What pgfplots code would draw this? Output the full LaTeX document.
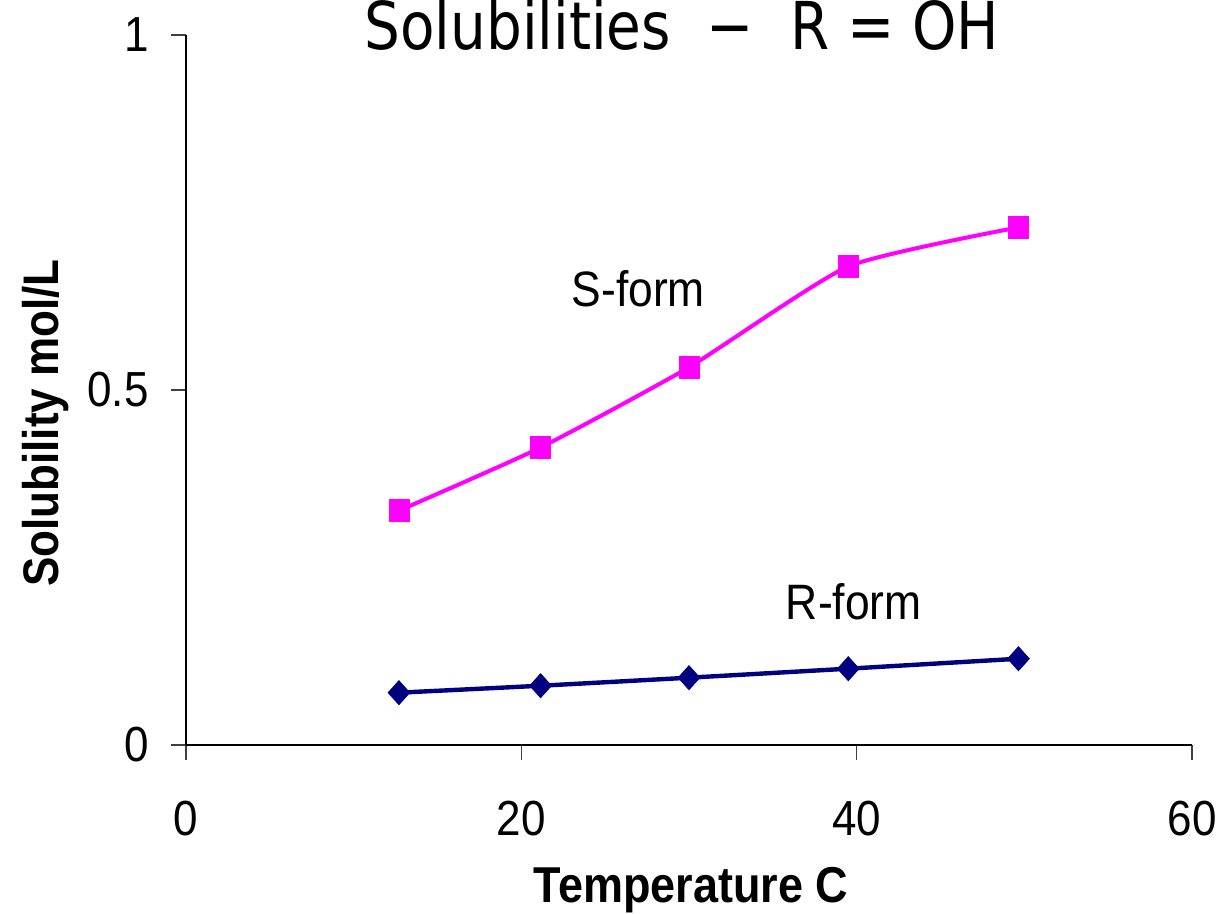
\documentclass[border=0pt]{standalone}
\usepackage{pgfplots}
\pgfplotsset{compat=1.18}
\usepackage{graphicx}
\usepackage{fontspec}
\setmainfont{Liberation Sans}
\newfontfamily\titlefont{DejaVu Sans}
% slightly tall lettering used throughout the chart
\newcommand\vs[1]{\scalebox{1}[1.12]{#1}}
\definecolor{sform}{RGB}{255,0,255}
\definecolor{rform}{RGB}{0,0,128}

\begin{document}
\begin{tikzpicture}
\path[use as bounding box] (-93pt,-84.5pt) rectangle (519.5pt,372.5pt);
\begin{axis}[
  at={(0,0)}, anchor=south west,
  scale only axis, width=503pt, height=355pt,
  xmin=0, xmax=60, ymin=0, ymax=1,
  clip=false,
  axis lines=left,
  axis line style={-, line width=0.8pt, black},
  xtick={0,20,40,60}, ytick={0,0.5,1},
  tick align=outside, major tick length=7.5pt,
  tick style={line width=0.7pt, black!75},
  /pgf/number format/assume math mode=true,
  xticklabel={\vs{\pgfmathprintnumber{\tick}}},
  yticklabel={\vs{\pgfmathprintnumber{\tick}}},
  ticklabel style={font=\fontsize{22}{26}\selectfont, inner sep=0pt},
  xticklabel style={anchor=center, yshift=-29.5pt},
  yticklabel style={anchor=east, xshift=-11pt},
  title={\titlefont\fontsize{33}{40}\selectfont\scalebox{0.855}[1]{Solubilities\ \ −\ \ R = OH}},
  title style={at={(axis description cs:0.1769,0.962)}, anchor=base west, inner sep=0pt},
  xlabel={\vs{Temperature C}},
  xlabel style={font=\bfseries\fontsize{22.5}{27}\selectfont, at={(axis description cs:0.502,-0.2225)}, anchor=base, inner sep=0pt},
  ylabel={\scalebox{0.88}[1]{Solubility mol/L}},
  ylabel style={font=\bfseries\fontsize{25}{30}\selectfont, at={(axis description cs:-0.1272,0.4535)}, anchor=base, rotate=0, inner sep=0pt},
]
% S-form solubility
\addplot[sform, line width=2pt, smooth, tension=0.33,
  mark=square*, mark size=5pt, mark options={solid, line width=0.4pt, yscale=1.08}]
  coordinates {(12.7,0.330) (21.15,0.419) (30.0,0.532) (39.5,0.674) (49.65,0.729)};
% R-form solubility
\addplot[rform, line width=2.2pt, smooth, tension=0.33,
  mark=diamond*, mark size=6pt, mark options={solid, line width=0.4pt, xscale=1.2}]
  coordinates {(12.7,0.0737) (21.15,0.0835) (30.0,0.0948) (39.5,0.1075) (49.65,0.1215)};
\node[font=\fontsize{22.2}{26}\selectfont, inner sep=0pt] at (axis cs:26.98,0.6432) {\vs{S-form}};
\node[font=\fontsize{22.2}{26}\selectfont, inner sep=0pt] at (axis cs:39.83,0.2014) {\vs{R-form}};
\end{axis}
\end{tikzpicture}
\end{document}
